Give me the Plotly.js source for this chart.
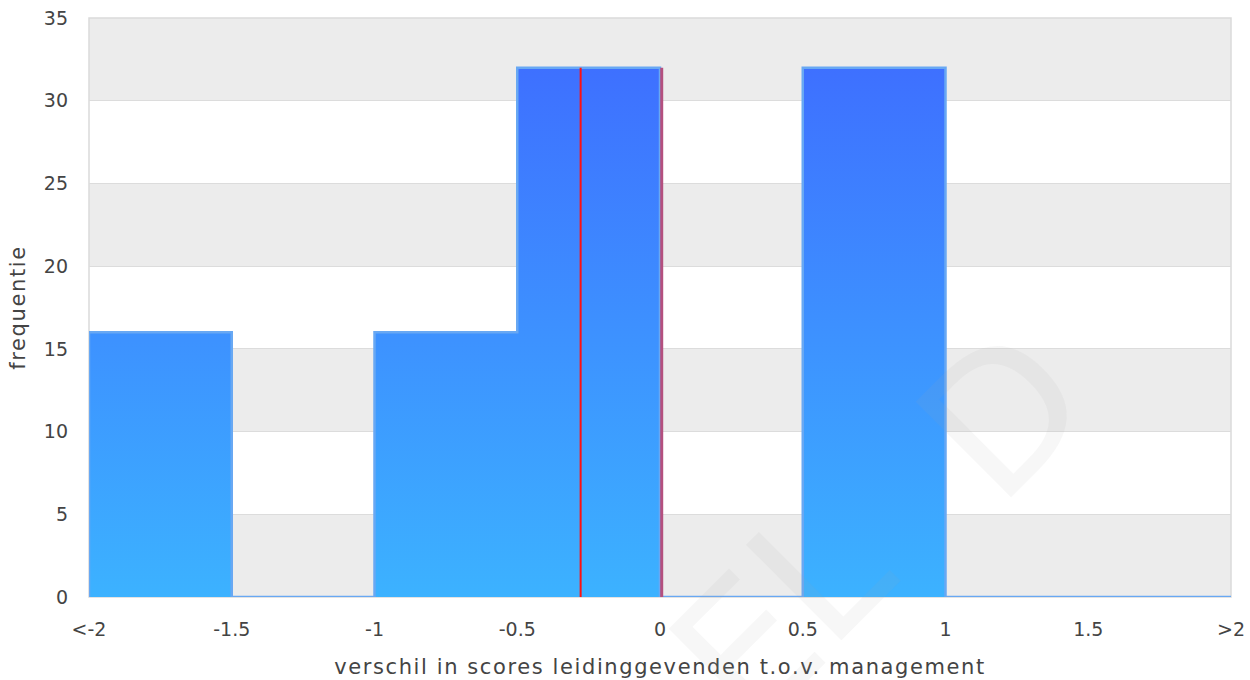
<!DOCTYPE html>
<html>
<head>
<meta charset="utf-8">
<script src="https://cdn.plot.ly/plotly-3.0.1.min.js"></script>
<style>
  html, body { margin: 0; padding: 0; background: #ffffff; }
  #chart { width: 1250px; height: 680px; }
  .g-xtitle text, .g-ytitle text { letter-spacing: 1.6px; }
</style>
</head>
<body>
<div id="chart"></div>
<script>
// Histogram bins (score differences) and their frequencies
const binEdges = [-2, -1.5, -1, -0.5, 0, 0.5, 1, 1.5, 2];
const counts = [16, 0, 16, 32, 0, 32, 0, 0];

// Axis ticks
const xTickVals = [-2, -1.5, -1, -0.5, 0, 0.5, 1, 1.5, 2];
const xTickText = ['<-2', '-1.5', '-1', '-0.5', '0', '0.5', '1', '1.5', '>2'];
const yTickVals = [0, 5, 10, 15, 20, 25, 30, 35];

// Reference lines (group averages) and the height they reach
const refLineX = [-0.278, 0.006];
const refLineColors = ['#ff1010', '#b4507f'];
const refLineTop = 32;

// Watermark letters (paper positions)
const markLetters = ['E', 'L', 'D'];
const markX = [0.577, 0.640, 0.800];
const markY = [-0.092, 0.045, 0.315];

// Step outline of the histogram, filled as one polygon
const stepX = [binEdges[0]];
const stepY = [0];
counts.forEach((c, i) => {
  stepX.push(binEdges[i], binEdges[i + 1]);
  stepY.push(c, c);
});
stepX.push(binEdges[binEdges.length - 1]);
stepY.push(0);

const traces = [{
  type: 'scatter',
  mode: 'lines',
  x: stepX,
  y: stepY,
  fill: 'toself',
  fillgradient: {
    type: 'vertical',
    start: 0,
    stop: 32,
    colorscale: [[0, '#3cb2ff'], [1, '#3e70ff']]
  },
  line: { color: '#68a8f3', width: 2.5, shape: 'linear' },
  hoverinfo: 'skip',
  showlegend: false
}];

refLineX.forEach((x, i) => {
  traces.push({
    type: 'scatter',
    mode: 'lines',
    x: [x, x],
    y: [0, refLineTop],
    line: { color: refLineColors[i], width: i === 0 ? 2 : 3 },
    hoverinfo: 'skip',
    showlegend: false
  });
});

// Alternating horizontal bands behind the grid
const bands = [];
for (let k = 0; k + 1 < yTickVals.length; k += 2) {
  bands.push({
    type: 'rect', layer: 'below', xref: 'paper', yref: 'y',
    x0: 0, x1: 1, y0: yTickVals[k], y1: yTickVals[k + 1],
    fillcolor: '#ececec', line: { width: 0 }
  });
}
bands.push({
  type: 'rect', layer: 'below', xref: 'paper', yref: 'paper',
  x0: 0, x1: 1, y0: 0, y1: 1,
  fillcolor: 'rgba(0,0,0,0)', line: { color: '#dadada', width: 1.5 }
});

const tickFont = { family: 'DejaVu Sans', size: 19, color: '#444444' };
const titleFont = { family: 'DejaVu Sans', size: 21, color: '#444444' };

const layout = {
  width: 1250,
  height: 680,
  margin: { l: 89, r: 19, t: 18, b: 83 },
  paper_bgcolor: '#ffffff',
  plot_bgcolor: '#ffffff',
  showlegend: false,
  xaxis: {
    range: [-2, 2],
    tickmode: 'array',
    tickvals: xTickVals,
    ticktext: xTickText,
    tickfont: tickFont,
    ticks: '',
    ticklabelstandoff: 19,
    showgrid: false,
    zeroline: false,
    showline: false,
    title: { text: 'verschil in scores leidinggevenden t.o.v. management', font: titleFont, standoff: 20 },
    automargin: false,
    fixedrange: true
  },
  yaxis: {
    range: [0, 35],
    tickmode: 'array',
    tickvals: yTickVals,
    tickfont: tickFont,
    ticks: '',
    ticklabelstandoff: 20,
    showgrid: true,
    gridcolor: '#dcdcdc',
    gridwidth: 1,
    zeroline: false,
    showline: false,
    title: { text: 'frequentie', font: titleFont, standoff: 12 },
    automargin: false,
    fixedrange: true
  },
  shapes: bands,
  annotations: markLetters.map((t, i) => ({
    text: t,
    xref: 'paper', yref: 'paper',
    x: markX[i], y: markY[i],
    xanchor: 'center', yanchor: 'middle',
    showarrow: false,
    textangle: -45,
    font: { family: 'DejaVu Sans', size: 185, color: 'rgba(170,170,170,0.09)' }
  }))
};

Plotly.newPlot('chart', traces, layout, { displayModeBar: false, staticPlot: true });
</script>
</body>
</html>
